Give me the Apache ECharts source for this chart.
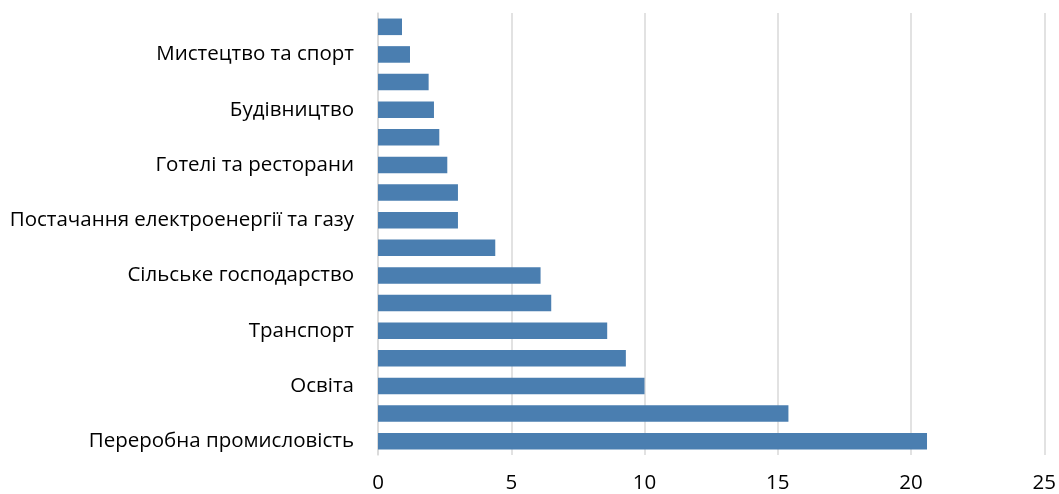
<!DOCTYPE html>
<html>
<head>
<meta charset="utf-8">
<script src="https://cdn.jsdelivr.net/npm/echarts@6/dist/echarts.min.js"></script>
<style>html,body{margin:0;padding:0;background:#fff}#c{width:1059px;height:494px}</style>
</head>
<body>
<div id="c"></div>
<script>
// categories from bottom to top
const categories = [
  'Переробна промисловість', '',
  'Освіта', '',
  'Транспорт', '',
  'Сільське господарство', '',
  'Постачання електроенергії та газу', '',
  'Готелі та ресторани', '',
  'Будівництво', '',
  'Мистецтво та спорт', ''
];
const values = [20.6, 15.4, 10.0, 9.3, 8.6, 6.5, 6.1, 4.4, 3.0, 3.0, 2.6, 2.3, 2.1, 1.9, 1.2, 0.9];
const xTicks = [0, 5, 10, 15, 20, 25];

const font = '"Open Sans", "Noto Sans", sans-serif';
const chart = echarts.init(document.getElementById('c'));
chart.setOption({
  animation: false,
  grid: { left: 378, right: 14, top: 13, bottom: 39, containLabel: false },
  xAxis: {
    type: 'value', min: xTicks[0], max: xTicks[xTicks.length - 1], interval: 5,
    axisLine: { show: false }, axisTick: { show: false },
    splitLine: { lineStyle: { color: '#d9d9d9', width: 1.5 } },
    axisLabel: { color: '#000', fontSize: 20.5, fontFamily: font, margin: 18 }
  },
  yAxis: {
    type: 'category', data: categories,
    axisLine: { show: true, lineStyle: { color: '#d9d9d9', width: 1.5 } },
    axisTick: { show: false },
    axisLabel: { color: '#000', fontSize: 20.5, fontFamily: font, margin: 24, interval: 0 }
  },
  series: [{
    type: 'bar', data: values, barCategoryGap: '40%',
    itemStyle: { color: '#4a7eb0' }
  }]
});
</script>
</body>
</html>
